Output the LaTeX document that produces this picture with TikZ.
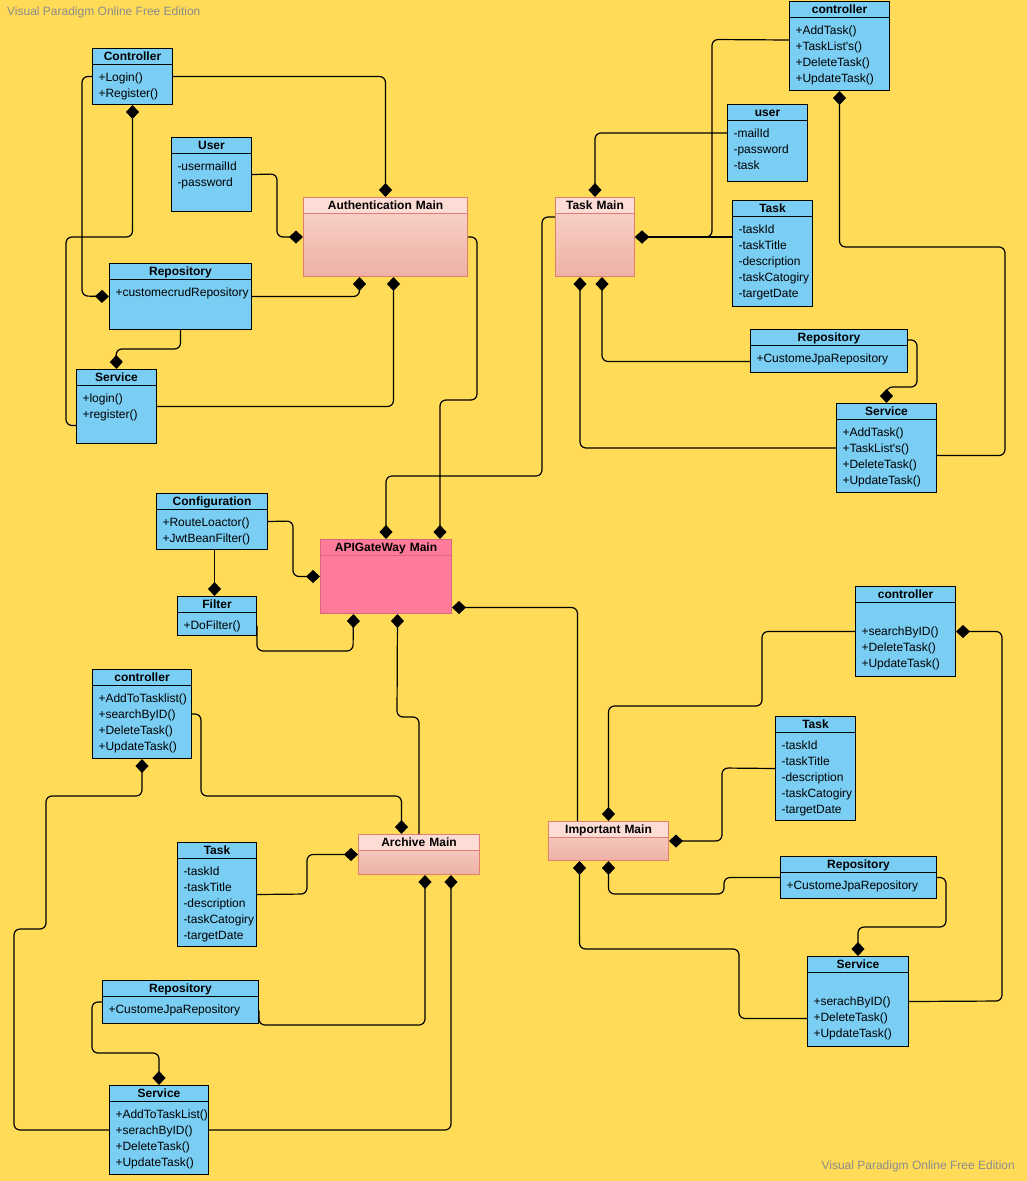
\documentclass[tikz,border=0pt]{standalone}
\usepackage{fontspec}
\setmainfont{Liberation Sans}
\usepackage{tikz}
\usetikzlibrary{
  arrows.meta,
  positioning
}
\hyphenpenalty=10000
\exhyphenpenalty=10000
\definecolor{BgYellow}{HTML}{FFDB58}
\definecolor{ClsBlue}{HTML}{7ACEF4}
\definecolor{MainHead}{HTML}{FDDCD6}
\definecolor{MainTop}{HTML}{FAD6CE}
\definecolor{MainBot}{HTML}{EDB1A4}
\definecolor{MainLine}{HTML}{E2806F}
\definecolor{ApiPink}{HTML}{FF7B9B}
\definecolor{ApiLine}{HTML}{D7687F}
\definecolor{WmGray}{HTML}{8C8C8C}
\newcommand{\clshead}[1]{\makebox[\linewidth]{\textbf{#1}}}
\newcommand{\clstitle}[1]{\clshead{#1}\\[4.5pt]}
\tikzset{
  % Common frame: corner anchored, size from text width / text depth
  boxbase/.style 2 args={
    rectangle, anchor=north west, line width=1pt,
    inner xsep=6pt, inner ysep=0pt,
    text width=#1, text height=12pt, text depth=#2,
    align=left, font=\fontsize{12}{16}\selectfont
  },
  % Class box: blue, title row split off by a line
  cls/.style 2 args={
    boxbase={#1}{#2}, draw=black, fill=ClsBlue,
    path picture={\draw[line width=1pt]
      ([yshift=-16pt]path picture bounding box.north west) --
      ([yshift=-16pt]path picture bounding box.north east);}
  },
  % Service main box: salmon gradient
  mainbox/.style 2 args={
    boxbase={#1}{#2}, draw=MainLine, top color=MainTop, bottom color=MainBot,
    path picture={
      \fill[MainHead] (path picture bounding box.north west) rectangle
        ([yshift=-16pt]path picture bounding box.north east);
      \draw[MainLine, line width=1pt]
        ([yshift=-16pt]path picture bounding box.north west) --
        ([yshift=-16pt]path picture bounding box.north east);}
  },
  % Gateway box: flat pink
  gwbox/.style 2 args={
    boxbase={#1}{#2}, draw=ApiLine, fill=ApiPink,
    path picture={\draw[ApiLine, line width=1pt]
      ([yshift=-16pt]path picture bounding box.north west) --
      ([yshift=-16pt]path picture bounding box.north east);}
  },
  % Composition link, diamond at the owner
  comp/.style={
    draw=black, line width=1.2pt, rounded corners=6pt,
    -{Diamond[length=14pt,width=13pt]}
  },
  % Watermark text
  wm/.style={font=\fontsize{12}{14}\selectfont, text=WmGray, inner sep=0pt}
}

\begin{document}
\begin{tikzpicture}[x=1pt, y=-1pt]
  \fill[BgYellow] (0,0) rectangle (1027,1181);
  \useasboundingbox (0,0) rectangle (1027,1181);

  \node[wm, anchor=west] (wmtop) at (7,12)    {Visual Paradigm Online Free Edition};
  \node[wm, anchor=east] (wmbot) at (1015,1166) {Visual Paradigm Online Free Edition};

  % Authentication service
  \node[cls={68pt}{44pt}]      (authctl)  at (92,48)   {\clstitle{Controller}+Login()\\+Register()};
  \node[cls={68pt}{62pt}]      (authuser) at (171,137) {\clstitle{User}-usermailId\\-password};
  \node[mainbox={152pt}{67pt}] (authmain) at (303,197) {\clshead{Authentication Main}};
  \node[cls={130pt}{54pt}]     (authrepo) at (109,263) {\clstitle{Repository}+customecrudRepository};
  \node[cls={68pt}{62pt}]      (authsvc)  at (76,369)  {\clstitle{Service}+login()\\+register()};

  % Task service
  \node[cls={88pt}{77pt}]      (taskctl)  at (789,1)   {\clstitle{controller}+AddTask()\\+TaskList\textquotesingle s()\\+DeleteTask()\\+UpdateTask()};
  \node[cls={68pt}{65pt}]      (taskuser) at (727,104) {\clstitle{user}-mailId\\-password\\-task};
  \node[mainbox={67pt}{67pt}]  (taskmain) at (555,197) {\clshead{Task Main}};
  \node[cls={68pt}{94pt}]      (taskent)  at (732,200) {\clstitle{Task}-taskId\\-taskTitle\\-description\\-taskCatogiry\\-targetDate};
  \node[cls={145pt}{31pt}]     (taskrepo) at (750,329) {\clstitle{Repository}+CustomeJpaRepository};
  \node[cls={88pt}{77pt}]      (tasksvc)  at (836,403) {\clstitle{Service}+AddTask()\\+TaskList\textquotesingle s()\\+DeleteTask()\\+UpdateTask()};

  % Gateway
  \node[cls={99pt}{44pt}]      (gwcfg)    at (156,493) {\clstitle{Configuration}+RouteLoactor()\\+JwtBeanFilter()};
  \node[gwbox={119pt}{62pt}]   (gwmain)   at (320,539) {\clshead{APIGateWay Main}};
  \node[cls={67pt}{27pt}]      (gwfilter) at (177,596) {\clstitle{Filter}+DoFilter()};

  % Archive service
  \node[cls={87pt}{77pt}]      (arcctl)   at (92,669)  {\clstitle{controller}+AddToTasklist()\\+searchByID()\\+DeleteTask()\\+UpdateTask()};
  \node[cls={67pt}{92pt}]      (arcent)   at (177,842) {\clstitle{Task}-taskId\\-taskTitle\\-description\\-taskCatogiry\\-targetDate};
  \node[mainbox={109pt}{28pt}] (arcmain)  at (358,834) {\clshead{Archive Main}};
  \node[cls={144pt}{31pt}]     (arcrepo)  at (102,980) {\clstitle{Repository}+CustomeJpaRepository};
  \node[cls={87pt}{77pt}]      (arcsvc)   at (109,1085) {\clstitle{Service}+AddToTaskList()\\+serachByID()\\+DeleteTask()\\+UpdateTask()};

  % Important service
  \node[cls={88pt}{78pt}]      (impctl)   at (855,586) {\clstitle{controller}\mbox{}\\+searchByID()\\+DeleteTask()\\+UpdateTask()};
  \node[cls={68pt}{92pt}]      (impent)   at (775,716) {\clstitle{Task}-taskId\\-taskTitle\\-description\\-taskCatogiry\\-targetDate};
  \node[mainbox={108pt}{27pt}] (impmain)  at (548,821) {\clshead{Important Main}};
  \node[cls={144pt}{30pt}]     (imprepo)  at (780,856) {\clstitle{Repository}+CustomeJpaRepository};
  \node[cls={89pt}{78pt}]      (impsvc)   at (807,956) {\clstitle{Service}\mbox{}\\+serachByID()\\+DeleteTask()\\+UpdateTask()};

  % links: authentication
  \draw[comp] (authctl.east) -| (authmain.north);
  \draw[comp] ([yshift=-19pt]authsvc.west) -| (66,237) -| (authctl.south);
  \draw[comp] (authctl.west) -| (82,296) -- (authrepo.west);
  \draw[comp] (authuser.east) -- (277,174) |- (authmain.west);
  \draw[comp] (authrepo.east) -| ([xshift=-26pt]authmain.south);
  \draw[comp] (authsvc.east) -| ([xshift=8pt]authmain.south);
  \draw[comp] (authrepo.south) |- (116,349) -- (authsvc.north);

  % links: gateway
  \draw[comp] (authmain.east) -| (477,400) -| ([xshift=54pt]gwmain.north);
  \draw[comp] ([yshift=-20pt]taskmain.north west) -| (542,476) -| (gwmain.north);
  \draw[comp] (gwcfg.east) -- (293,521) |- (gwmain.west);
  \draw[comp] ([xshift=2.5pt]gwcfg.south) -- ([xshift=-2.5pt]gwfilter.north);
  \draw[comp] ([yshift=-9.5pt]gwfilter.east) |- (353,651) -- ([xshift=-32.5pt]gwmain.south);
  \draw[comp] ([xshift=-31pt]impmain.north) |- ([yshift=-31pt]gwmain.east);
  \draw[comp] (arcmain.north) |- (397,717) -- ([xshift=11.5pt]gwmain.south);

  % links: task
  \draw[comp] ([yshift=6pt]taskctl.west) -- (712,39.5) |- (taskmain.east);
  \draw[comp] ([yshift=16.5pt]taskent.west) -- (taskmain.east);
  \draw[comp] ([yshift=10pt]taskuser.west) -| (taskmain.north);
  \draw[comp] ([yshift=-7.5pt]tasksvc.east) -| (1005,247) -| (taskctl.south);
  \draw[comp] ([yshift=-10.5pt]taskrepo.west) -| ([xshift=7pt]taskmain.south);
  \draw[comp] (tasksvc.west) -| ([xshift=-15pt]taskmain.south);
  \draw[comp] ([yshift=11pt]taskrepo.east) -| (917,387) -| (tasksvc.north);

  % links: archive
  \draw[comp] (arcctl.east) -| (201,796) -| ([xshift=-17.5pt]arcmain.north);
  \draw[comp] (arcsvc.west) -| (14,929) -| (46,796) -| (arcctl.south);
  \draw[comp] (arcent.east) -- (307,894) |- (arcmain.west);
  \draw[comp] ([yshift=-8.5pt]arcrepo.east) |- (300,1025) -| ([xshift=6pt]arcmain.south);
  \draw[comp] (arcsvc.east) -| ([xshift=32pt]arcmain.south);
  \draw[comp] (arcrepo.west) -| (92,1053) -| (arcsvc.north);

  % links: important
  \draw[comp] (impctl.west) -| (762,706) -| (impmain.north);
  \draw[comp] (impent.west) -- (722,768) |- (impmain.east);
  \draw[comp] (imprepo.west) -| (724,894) -| (impmain.south);
  \draw[comp] ([yshift=-17pt]impsvc.west) -| (739,949) -| ([xshift=-29pt]impmain.south);
  \draw[comp] (imprepo.east) -| (946,927) -| (impsvc.north);
  \draw[comp] (impsvc.east) -- (1002,1001) |- (impctl.east);

\end{tikzpicture}
\end{document}
